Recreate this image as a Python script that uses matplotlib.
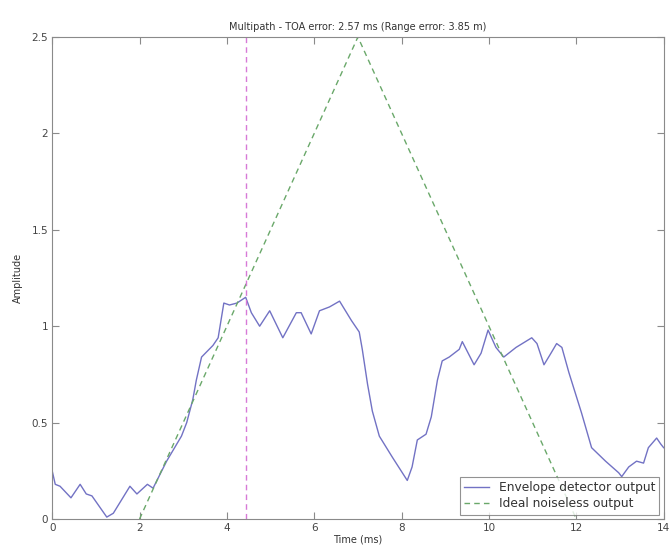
import matplotlib
matplotlib.use('Agg')
import matplotlib.pyplot as plt

# envelope detector output (time in ms, amplitude)
env_t = [0.0, 0.07, 0.18, 0.43, 0.64, 0.78, 0.91, 1.25, 1.4, 1.78, 1.94, 2.18, 2.31,
         2.62, 2.96, 3.08, 3.22, 3.3, 3.42, 3.68, 3.8, 3.93, 4.06, 4.23, 4.43, 4.56,
         4.75, 4.98, 5.28, 5.59, 5.7, 5.93, 6.12, 6.35, 6.58, 6.85, 7.03, 7.1, 7.22,
         7.33, 7.49, 7.79, 8.13, 8.24, 8.36, 8.56, 8.68, 8.82, 8.93, 9.09, 9.32, 9.39,
         9.66, 9.82, 9.98, 10.16, 10.34, 10.62, 10.98, 11.1, 11.26, 11.42, 11.55,
         11.67, 11.83, 12.12, 12.35, 12.67, 12.97, 13.04, 13.2, 13.38, 13.54, 13.65,
         13.84, 13.93, 14.0]
env_y = [0.25, 0.18, 0.17, 0.11, 0.18, 0.13, 0.12, 0.01, 0.03, 0.17, 0.13, 0.18, 0.16,
         0.30, 0.43, 0.50, 0.62, 0.72, 0.84, 0.90, 0.94, 1.12, 1.11, 1.12, 1.15, 1.07,
         1.00, 1.08, 0.94, 1.07, 1.07, 0.96, 1.08, 1.10, 1.13, 1.03, 0.97, 0.88, 0.70,
         0.56, 0.43, 0.32, 0.20, 0.27, 0.41, 0.44, 0.53, 0.72, 0.82, 0.84, 0.88, 0.92,
         0.80, 0.86, 0.98, 0.89, 0.84, 0.89, 0.94, 0.91, 0.80, 0.86, 0.91, 0.89, 0.76,
         0.55, 0.37, 0.30, 0.24, 0.22, 0.27, 0.30, 0.29, 0.37, 0.42, 0.39, 0.37]

# ideal noiseless output (triangle)
ideal_t = [2, 7, 12]
ideal_y = [0, 2.5, 0]

toa_est = 4.43  # detected TOA (7 - 2.57)

fig = plt.figure(figsize=(6.69, 5.56), dpi=100)
ax = fig.add_axes([0.078, 0.0665, 0.914, 0.867])

ax.plot(env_t, env_y, color='#7272c4', lw=1.0, label='Envelope detector output')
ax.plot(ideal_t, ideal_y, color='#6aa86a', lw=1.0, ls=(0, (4, 3)), label='Ideal noiseless output')
ax.axvline(toa_est, color='#d77ad7', lw=1.0, ls=(0, (4, 3)))

ax.set_xlim(0, 14)
ax.set_ylim(0, 2.5)
ax.set_xticks(range(0, 15, 2))
ax.set_yticks([0, 0.5, 1, 1.5, 2, 2.5])
ax.set_yticklabels(['0', '0.5', '1', '1.5', '2', '2.5'])

for s in ax.spines.values():
    s.set_color('#8a8a8a')
ax.tick_params(direction='in', top=True, right=True, length=5, width=0.8,
               colors='#8a8a8a', labelcolor='#444444', labelsize=7.5, pad=3)

ax.set_title('Multipath - TOA error: 2.57 ms (Range error: 3.85 m)', fontsize=7, color='#333333', pad=5)
ax.set_xlabel('Time (ms)', fontsize=7, color='#333333', labelpad=1)
ax.set_ylabel('Amplitude', fontsize=7, color='#333333', labelpad=6)

leg = ax.legend(loc='lower right', fontsize=8.8, frameon=True, fancybox=False,
                borderaxespad=0.35, handlelength=2.0, handletextpad=0.8,
                labelspacing=0.3, borderpad=0.35)
leg.get_frame().set_edgecolor('#777777')
leg.get_frame().set_linewidth(0.8)
for t in leg.get_texts():
    t.set_color('#333333')

fig.savefig('out.png', dpi=100)
